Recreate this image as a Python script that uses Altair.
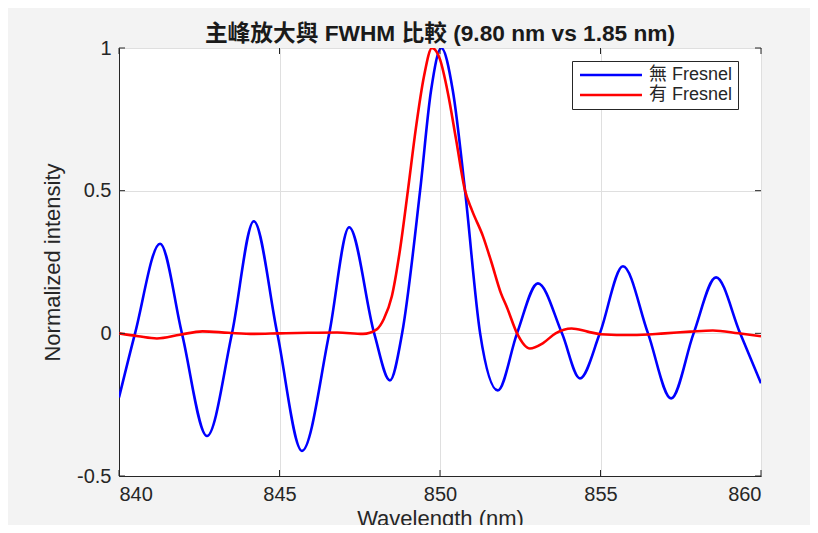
import altair as alt
import pandas as pd

FONT = "Liberation Sans, Arial, Noto Sans CJK TC, sans-serif"

series_names = ["無 Fresnel", "有 Fresnel"]
series_colors = ["#0000ff", "#ff0000"]

blue_x = [840.0, 840.5, 841.28, 841.96, 842.74, 843.52, 844.2, 844.93, 845.7, 846.55,
          847.17, 847.95, 848.44, 848.82, 849.38, 849.72, 850.04, 850.4, 850.78, 851.25,
          851.8, 852.4, 853.05, 853.8, 854.36, 854.98, 855.7, 856.48, 857.2, 857.9,
          858.6, 859.35, 860.0]
blue_y = [-0.225, 0.0, 0.314, 0.0, -0.36, 0.0, 0.393, 0.0, -0.412, 0.0,
          0.372, 0.0, -0.165, 0.0, 0.5, 0.85, 1.0, 0.85, 0.5, 0.0,
          -0.2, 0.0, 0.175, 0.0, -0.158, 0.0, 0.235, 0.0, -0.228, 0.0,
          0.196, 0.0, -0.175]

red_x = [840.0, 840.6, 841.18, 841.9, 842.6, 843.4, 844.2, 845.0, 845.9, 846.8,
         847.6, 848.03, 848.25, 848.5, 848.75, 849.0, 849.25, 849.5, 849.75, 850.0,
         850.25, 850.5, 850.78, 851.0, 851.34, 851.6, 851.9, 852.09, 852.4, 852.8,
         853.2, 853.6, 854.1, 854.6, 855.0, 856.0, 857.0, 857.8, 858.5, 859.3, 860.0]
red_y = [0.0, -0.01, -0.018, -0.005, 0.007, 0.002, -0.002, 0.0, 0.002, 0.003,
         -0.002, 0.014, 0.05, 0.13, 0.29, 0.5, 0.72, 0.9, 1.0, 0.96,
         0.84, 0.68, 0.5, 0.43, 0.34, 0.25, 0.14, 0.09, 0.0, -0.053,
         -0.035, 0.0, 0.017, 0.006, -0.003, -0.006, 0.0, 0.006, 0.01, 0.0, -0.01]

x_ticks = [840, 845, 850, 855, 860]
y_ticks = [-0.5, 0, 0.5, 1]

W, H = 642, 428

df = pd.concat([
    pd.DataFrame({"x": blue_x, "y": blue_y, "s": series_names[0], "o": 0}),
    pd.DataFrame({"x": red_x, "y": red_y, "s": series_names[1], "o": 1}),
])

xs = alt.Scale(domain=[840, 860], nice=False, zero=False)
ys = alt.Scale(domain=[-0.5, 1], nice=False, zero=False)

lines = alt.Chart(df).mark_line(strokeWidth=2.6, interpolate="monotone", clip=True).encode(
    x=alt.X("x:Q", scale=xs, title="Wavelength (nm)",
            axis=alt.Axis(values=x_ticks, format="d", grid=True, ticks=False,
                          labelPadding=8, titlePadding=4)),
    y=alt.Y("y:Q", scale=ys, title="Normalized intensity",
            axis=alt.Axis(values=y_ticks, labelExpr="'' + datum.value", grid=True,
                          ticks=False, labelPadding=8, titlePadding=12)),
    color=alt.Color("s:N", scale=alt.Scale(domain=series_names, range=series_colors),
                    legend=alt.Legend(title=None, orient="none", legendX=453, legendY=13,
                                      symbolType="M-1,0H9.33", symbolSize=144,
                                      symbolStrokeWidth=2.6, labelFontSize=18,
                                      labelFont=FONT, labelColor="#262626",
                                      strokeColor="#262626", fillColor="white",
                                      padding=5, rowPadding=2, labelOffset=54,
                                      cornerRadius=0)),
    detail="s:N",
    order="o:Q",
)

xt = pd.DataFrame({"x": x_ticks})
yt = pd.DataFrame({"y": y_ticks})
tick_col = "#262626"
tb = alt.Chart(xt).mark_rule(color=tick_col, strokeWidth=1).encode(
    x=alt.X("x:Q", scale=xs), y=alt.value(H), y2=alt.value(H - 6))
tt = alt.Chart(xt).mark_rule(color=tick_col, strokeWidth=1).encode(
    x=alt.X("x:Q", scale=xs), y=alt.value(0), y2=alt.value(6))
tl = alt.Chart(yt).mark_rule(color=tick_col, strokeWidth=1).encode(
    y=alt.Y("y:Q", scale=ys), x=alt.value(0), x2=alt.value(6))
tr = alt.Chart(yt).mark_rule(color=tick_col, strokeWidth=1).encode(
    y=alt.Y("y:Q", scale=ys), x=alt.value(W), x2=alt.value(W - 6))

chart = alt.layer(lines, tb, tt, tl, tr).properties(
    width=W, height=H,
    title=alt.TitleParams("主峰放大與 FWHM 比較 (9.80 nm vs 1.85 nm)", fontSize=22.7,
                          fontWeight="bold", font=FONT, color="#1a1a1a",
                          anchor="middle", offset=3, dy=11),
    padding={"left": 111, "top": 40, "right": 49, "bottom": 49},
    autosize=alt.AutoSizeParams(type="none"),
).configure(background="#f3f3f3").configure_view(
    fill="white", stroke="#262626", strokeWidth=1
).configure_axis(
    labelFont=FONT, titleFont=FONT, labelFontSize=20, titleFontSize=22,
    labelColor="#262626", titleColor="#262626", titleFontWeight="normal",
    domainColor="#262626", gridColor="#dfdfdf", gridWidth=1,
)

chart.save("out.html", embed_options={"renderer": "svg", "actions": False})
